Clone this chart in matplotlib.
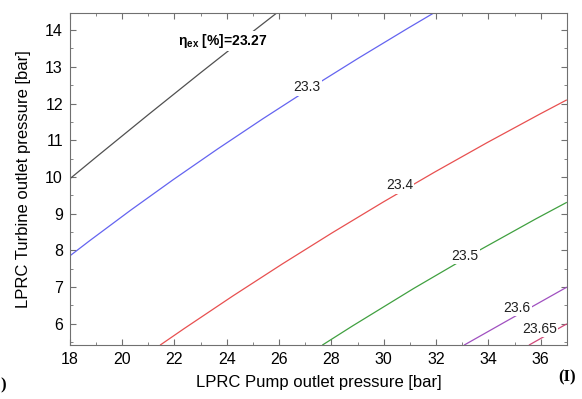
import numpy as np
import matplotlib
matplotlib.use("Agg")
import matplotlib.pyplot as plt
from matplotlib.path import Path
from matplotlib.patches import PathPatch
from matplotlib.ticker import MultipleLocator

plt.rcParams['font.family'] = ['Liberation Sans', 'DejaVu Sans']
plt.rcParams['mathtext.fontset'] = 'custom'
plt.rcParams['mathtext.rm'] = 'Liberation Sans'
plt.rcParams['mathtext.bf'] = 'Liberation Sans:bold'

## iso-efficiency lines: start, middle, end
## (x = pump outlet bar, y = turbine outlet bar)
levels = ['23.27', '23.3', '23.4', '23.5', '23.6', '23.65']
line_x = [
    [18.0, 22.0, 25.9],
    [18.0, 24.5, 31.9],
    [21.45, 29.0, 37.0],
    [27.65, 32.3, 37.0],
    [33.07, 35.03, 37.0],
    [35.55, 36.27, 37.0],
]
line_y = [
    [9.95, 12.27, 14.46],
    [7.85, 11.17, 14.46],
    [5.42, 8.90, 12.10],
    [5.42, 7.45, 9.31],
    [5.42, 6.21, 7.00],
    [5.42, 5.71, 6.00],
]
line_colors = ['#505050', '#6464f0', '#e85050', '#40a040', '#a050c0', '#d04878']

## label positions on each line
label_x = [23.85, 27.06, 30.6, 33.1, 35.1, 35.96]
label_y = [13.70, 12.44, 9.77, 7.85, 6.43, 5.86]
label_text = [r'η$_{\mathbf{ex}}$ [%]=23.27', '23.3', '23.4', '23.5', '23.6', '23.65']

fig = plt.figure(figsize=(5.82, 3.99), dpi=100)
ax = fig.add_axes((0.120, 0.135, 0.854, 0.832))

## quadratic curve through the three read points
for xs, ys, c in zip(line_x, line_y, line_colors):
    p0 = np.array([xs[0], ys[0]])
    pm = np.array([xs[1], ys[1]])
    p2 = np.array([xs[2], ys[2]])
    ctrl = 2 * pm - (p0 + p2) / 2
    path = Path([p0, ctrl, p2], [Path.MOVETO, Path.CURVE3, Path.CURVE3])
    ax.add_patch(PathPatch(path, fill=False, edgecolor=c, lw=0.9, zorder=2))

for i, (lx, ly, t) in enumerate(zip(label_x, label_y, label_text)):
    kw = dict(ha='center', va='center', fontsize=10, color='#202020', zorder=3,
              bbox=dict(facecolor='white', edgecolor='none', pad=1.0))
    if i == 0:
        kw['fontweight'] = 'bold'
        kw['color'] = 'black'
    ax.text(lx, ly, t, **kw)

ax.set_xlim(18, 37)
ax.set_ylim(5.42, 14.46)
ax.xaxis.set_major_locator(MultipleLocator(2))
ax.xaxis.set_minor_locator(MultipleLocator(1))
ax.yaxis.set_major_locator(MultipleLocator(1))
ax.yaxis.set_minor_locator(MultipleLocator(0.5))
ax.tick_params(which='both', direction='in', top=True, right=True, color='#707070')
ax.tick_params(which='major', length=4, labelsize=11.5, pad=5)
ax.tick_params(which='minor', length=2)
for s in ax.spines.values():
    s.set_color('#707070')

ax.set_xlabel('LPRC Pump outlet pressure [bar]', fontsize=12, labelpad=6)
ax.set_ylabel('LPRC Turbine outlet pressure [bar]', fontsize=12, labelpad=10)

fig.text(0.974, 0.053, '(I)', family='Liberation Serif', fontweight='bold',
         fontsize=12, ha='center', va='center')
fig.text(0.0, 0.035, ')', family='Liberation Serif', fontweight='bold',
         fontsize=12, ha='left', va='center')

fig.savefig('out.png', dpi=100)
